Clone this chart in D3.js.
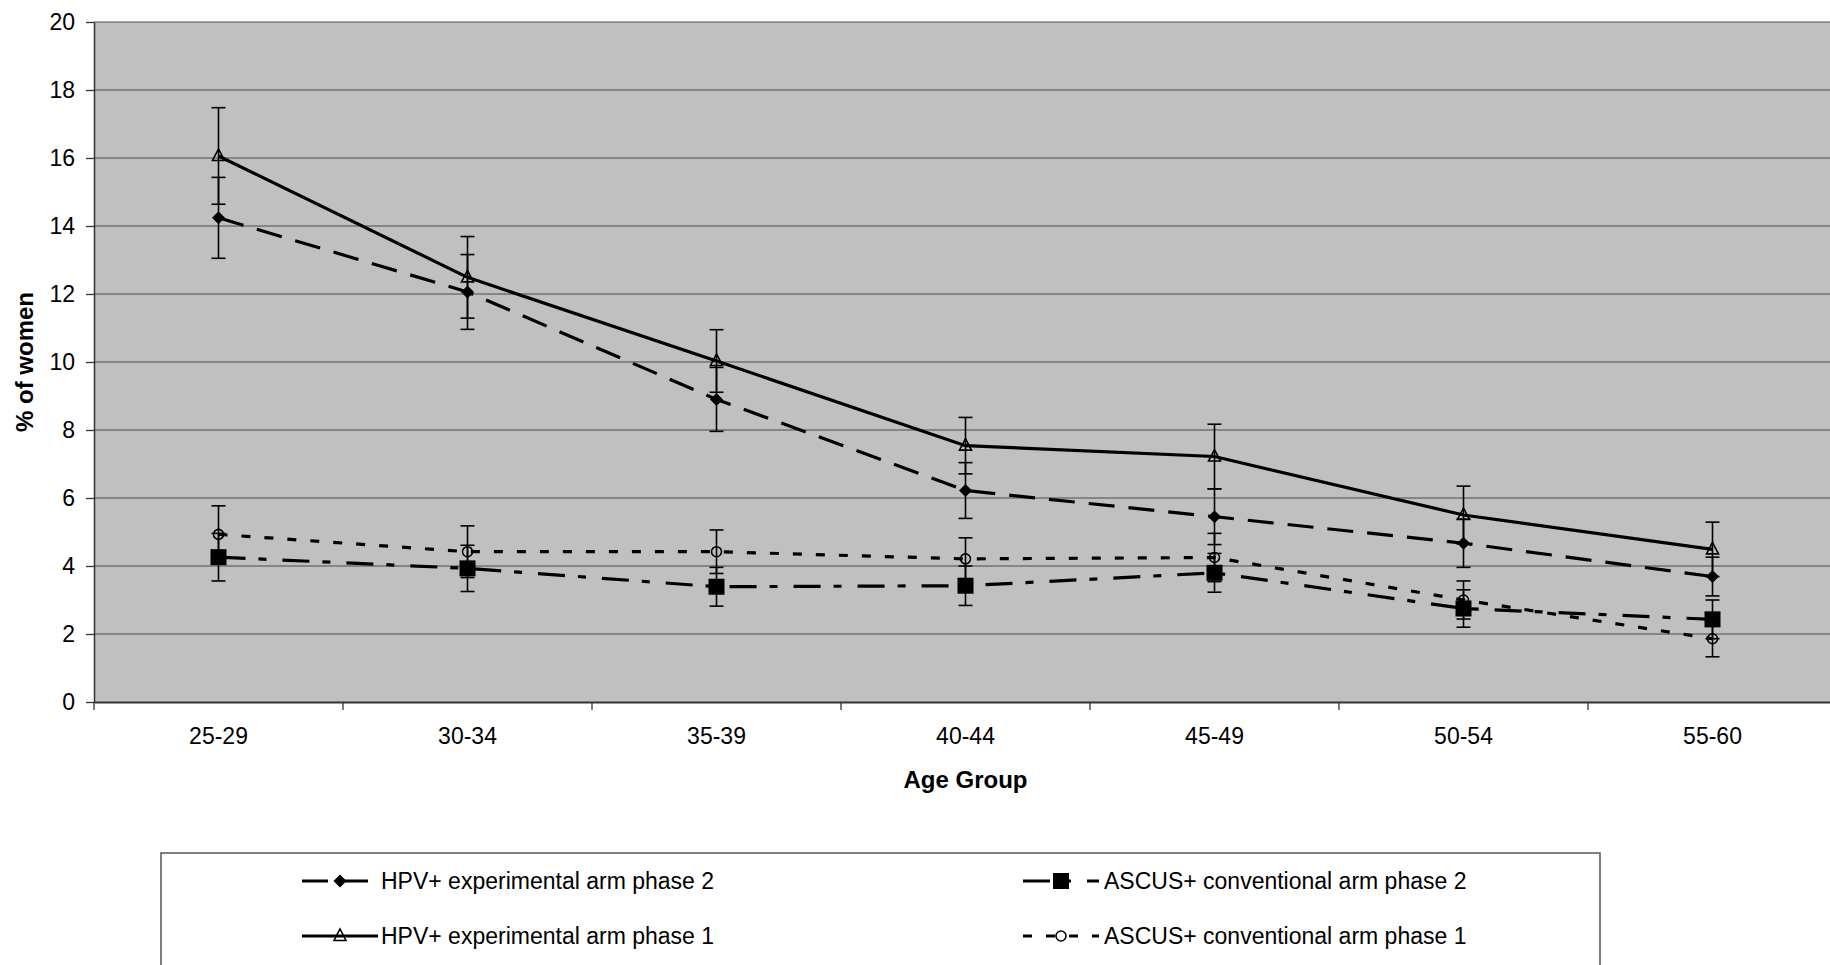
<!DOCTYPE html>
<html>
<head>
<meta charset="utf-8">
<script src="https://cdn.jsdelivr.net/npm/d3@7/dist/d3.min.js"></script>
<style>
  html, body { margin: 0; padding: 0; background: #fff; }
  svg { display: block; font-family: "Liberation Sans", Arial, sans-serif; }
</style>
</head>
<body>
<svg id="chart" width="1830" height="965"></svg>
<script>
// ---- data ----
const categories = ["25-29", "30-34", "35-39", "40-44", "45-49", "50-54", "55-60"];
const yTicks = [0, 2, 4, 6, 8, 10, 12, 14, 16, 18, 20];

const hpvPhase2 = [14.24, 12.06, 8.9, 6.22, 5.45, 4.67, 3.69];
const hpvPhase2Err = [1.19, 1.1, 0.94, 0.82, 0.82, 0.71, 0.57];
const hpvPhase1 = [16.06, 12.49, 10.03, 7.54, 7.22, 5.5, 4.49];
const hpvPhase1Err = [1.42, 1.2, 0.92, 0.83, 0.95, 0.85, 0.8];
const ascusPhase2 = [4.26, 3.93, 3.39, 3.42, 3.8, 2.75, 2.43];
const ascusPhase2Err = [0.7, 0.68, 0.57, 0.58, 0.57, 0.55, 0.57];
const ascusPhase1 = [4.93, 4.42, 4.42, 4.21, 4.25, 3.0, 1.86];
const ascusPhase1Err = [0.84, 0.76, 0.64, 0.62, 0.71, 0.56, 0.53];

const seriesNames = [
  "HPV+ experimental arm phase 2",
  "HPV+ experimental arm phase 1",
  "ASCUS+ conventional arm phase 2",
  "ASCUS+ conventional arm phase 1"
];

// ---- series styling ----
const series = [
  { name: seriesNames[0], values: hpvPhase2, err: hpvPhase2Err, dash: "26,14", marker: "diamond" },
  { name: seriesNames[1], values: hpvPhase1, err: hpvPhase1Err, dash: null, marker: "triangle" },
  { name: seriesNames[2], values: ascusPhase2, err: ascusPhase2Err, dash: "27,13,8,16", marker: "square" },
  { name: seriesNames[3], values: ascusPhase1, err: ascusPhase1Err, dash: "9,14", marker: "circle" }
];

const svg = d3.select("#chart");
const plot = { left: 94, right: 1837, top: 22, bottom: 702 };

svg.append("rect").attr("width", 1830).attr("height", 965).attr("fill", "#fff");

const x = d3.scaleBand().domain(categories).range([plot.left, plot.right]).paddingInner(0).paddingOuter(0);
const y = d3.scaleLinear().domain([0, 20]).range([plot.bottom, plot.top]);
const cx = c => x(c) + x.bandwidth() / 2;

// plot background
svg.append("rect")
  .attr("x", plot.left).attr("y", plot.top)
  .attr("width", plot.right - plot.left).attr("height", plot.bottom - plot.top)
  .attr("fill", "#c0c0c0");

// gridlines
svg.append("g").selectAll("line").data(yTicks.filter(t => t > 0)).join("line")
  .attr("x1", plot.left).attr("x2", plot.right)
  .attr("y1", d => y(d)).attr("y2", d => y(d))
  .attr("stroke", "#4a4a4a").attr("stroke-width", 1.2);

// y axis
const yAxis = svg.append("g").attr("transform", `translate(${plot.left},0)`)
  .call(d3.axisLeft(y).tickValues(yTicks).tickSize(8).tickPadding(11).tickSizeOuter(0));
yAxis.select(".domain").attr("stroke", "#333").attr("stroke-width", 1.5);
yAxis.selectAll(".tick line").attr("stroke", "#333").attr("stroke-width", 1.3);
yAxis.selectAll("text").attr("font-size", 23).attr("fill", "#000")
  .attr("font-family", "'Liberation Sans', Arial, sans-serif");

// x axis
const xAxis = svg.append("g").attr("transform", `translate(0,${plot.bottom})`)
  .call(d3.axisBottom(x).tickSize(0).tickPadding(26).tickSizeOuter(0));
xAxis.select(".domain").attr("stroke", "#333").attr("stroke-width", 1.8);
xAxis.selectAll("text").attr("font-size", 23).attr("fill", "#000")
  .attr("font-family", "'Liberation Sans', Arial, sans-serif");
// category boundary ticks
svg.append("g").selectAll("line").data(categories).join("line")
  .attr("x1", d => x(d)).attr("x2", d => x(d))
  .attr("y1", plot.bottom).attr("y2", plot.bottom + 8)
  .attr("stroke", "#333").attr("stroke-width", 1.3);

// axis titles
svg.append("text")
  .attr("transform", `translate(33,${(plot.top + plot.bottom) / 2}) rotate(-90)`)
  .attr("text-anchor", "middle").attr("font-weight", "bold").attr("font-size", 24)
  .text("% of women");
svg.append("text")
  .attr("x", (plot.left + plot.right) / 2).attr("y", 788)
  .attr("text-anchor", "middle").attr("font-weight", "bold").attr("font-size", 24)
  .text("Age Group");

// marker drawing
function drawMarker(g, type, px, py) {
  if (type === "diamond") {
    g.append("path").attr("d", `M${px},${py - 6.5}L${px + 6.5},${py}L${px},${py + 6.5}L${px - 6.5},${py}Z`)
      .attr("fill", "#000");
  } else if (type === "triangle") {
    g.append("path").attr("d", `M${px},${py - 7}L${px + 6},${py + 4.5}L${px - 6},${py + 4.5}Z`)
      .attr("fill", "none").attr("stroke", "#000").attr("stroke-width", 1.6);
  } else if (type === "square") {
    g.append("rect").attr("x", px - 8).attr("y", py - 8).attr("width", 16).attr("height", 16)
      .attr("fill", "#000");
  } else if (type === "circle") {
    g.append("circle").attr("cx", px).attr("cy", py).attr("r", 5)
      .attr("fill", "none").attr("stroke", "#000").attr("stroke-width", 1.6);
  }
}

const line = d3.line().x((d, i) => cx(categories[i])).y(d => y(d));
const plotClip = svg.append("defs").append("clipPath").attr("id", "clip")
  .append("rect").attr("x", 0).attr("y", 0).attr("width", 1830).attr("height", 965);

const seriesG = svg.append("g");
series.forEach(s => {
  const g = seriesG.append("g");
  g.append("path").datum(s.values).attr("d", line)
    .attr("fill", "none").attr("stroke", "#000").attr("stroke-width", 3.2)
    .attr("stroke-dasharray", s.dash);
});
// error bars
series.forEach(s => {
  const g = seriesG.append("g");
  s.values.forEach((v, i) => {
    const px = cx(categories[i]);
    const lo = y(v - s.err[i]), hi = y(v + s.err[i]);
    g.append("line").attr("x1", px).attr("x2", px).attr("y1", lo).attr("y2", hi)
      .attr("stroke", "#000").attr("stroke-width", 1.6);
    [lo, hi].forEach(yy => g.append("line")
      .attr("x1", px - 7).attr("x2", px + 7).attr("y1", yy).attr("y2", yy)
      .attr("stroke", "#000").attr("stroke-width", 1.6));
  });
});
// markers
series.forEach(s => {
  const g = seriesG.append("g");
  s.values.forEach((v, i) => drawMarker(g, s.marker, cx(categories[i]), y(v)));
});

// legend
const legend = svg.append("g");
legend.append("rect").attr("x", 161).attr("y", 853).attr("width", 1439).attr("height", 130)
  .attr("fill", "#fff").attr("stroke", "#555").attr("stroke-width", 1.5);
const legendPos = [
  { sx: 302, tx: 381, cy: 881 },
  { sx: 302, tx: 381, cy: 936 },
  { sx: 1023, tx: 1104, cy: 881 },
  { sx: 1023, tx: 1104, cy: 936 }
];
series.forEach((s, i) => {
  const p = legendPos[i];
  const g = legend.append("g");
  g.append("line").attr("x1", p.sx).attr("x2", p.sx + 76).attr("y1", p.cy).attr("y2", p.cy)
    .attr("stroke", "#000").attr("stroke-width", 3.2).attr("stroke-dasharray", s.dash);
  drawMarker(g, s.marker, p.sx + 38, p.cy);
  g.append("text").attr("x", p.tx).attr("y", p.cy + 8).attr("font-size", 23).text(s.name);
});
</script>
</body>
</html>
